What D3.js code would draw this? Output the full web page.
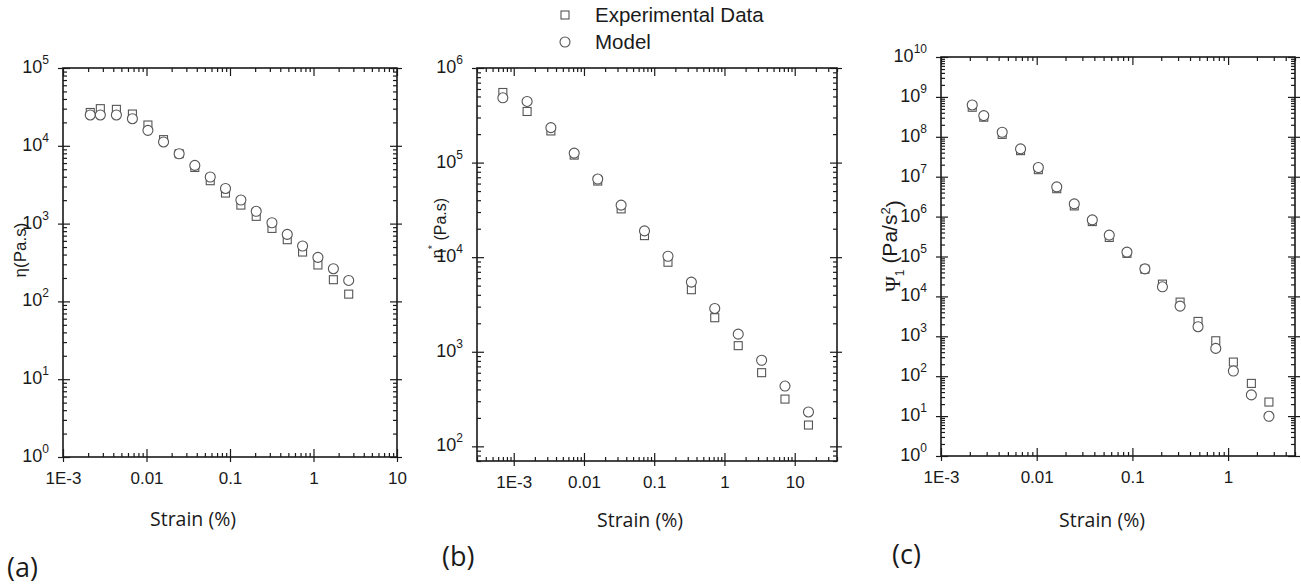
<!DOCTYPE html>
<html>
<head>
<meta charset="utf-8">
<script src="https://cdn.jsdelivr.net/npm/d3@7"></script>
<style>
  body { margin: 0; background: #fff; }
  svg { display: block; }
</style>
</head>
<body>
<svg id="chart" width="1301" height="587"></svg>
<script>

    // Data (strain in %)
    var strainA = [0.00212, 0.0028, 0.00436, 0.00678, 0.0104, 0.016, 0.0246, 0.0379, 0.058, 0.0883, 0.135, 0.206, 0.318, 0.485, 0.74, 1.13, 1.73, 2.64];
    var etaExp = [26800, 30000, 29400, 25600, 18500, 12000, 7900, 5270, 3560, 2470, 1730, 1240, 867, 621, 431, 294, 190, 124];
    var etaModel = [24900, 24900, 24900, 22300, 15800, 11200, 7900, 5600, 3970, 2830, 2010, 1440, 1025, 726, 515, 368, 263, 186];

    var strainB = [0.0007, 0.00155, 0.00338, 0.00726, 0.0157, 0.0338, 0.0727, 0.157, 0.338, 0.727, 1.57, 3.38, 7.27, 15.7];
    var etaStarExp = [551000, 347000, 216000, 120000, 63800, 32400, 16900, 8840, 4530, 2290, 1160, 601, 316, 168];
    var etaStarModel = [484000, 443000, 234000, 126000, 67000, 35500, 18960, 10230, 5450, 2870, 1535, 813, 434, 231];

    var strainC = [0.00212, 0.0028, 0.00436, 0.00678, 0.0104, 0.0162, 0.0247, 0.0381, 0.0573, 0.0877, 0.135, 0.206, 0.315, 0.485, 0.743, 1.135, 1.75, 2.67];
    var psiExp = [5.5e8, 3.1e8, 1.15e8, 4.5e7, 1.5e7, 5.0e6, 1.85e6, 7.5e5, 3.0e5, 1.2e5, 4.8e4, 2.03e4, 7190, 2360, 773, 226, 66, 22.5];
    var psiModel = [6.28e8, 3.4e8, 1.3e8, 4.98e7, 1.7e7, 5.55e6, 2.08e6, 8.27e5, 3.43e5, 1.29e5, 4.9e4, 1.74e4, 5710, 1740, 498, 135, 34, 9.9];

    var xTickValues = [1e-3, 1e-2, 1e-1, 1, 10];
    var xTickLabels = ["1E-3", "0.01", "0.1", "1", "10"];
    var seriesNames = ["Experimental Data", "Model"];
    var panelLetters = ["(a)", "(b)", "(c)"];


    var svg = d3.select("#chart");
    var ink = "#1a1a1a";
    var markColour = "#555";

    function minorTicks(dom) {
        var out = [];
        var lo = Math.floor(Math.log10(dom[0])), hi = Math.ceil(Math.log10(dom[1]));
        for (var e = lo; e < hi; e++) {
            for (var k = 2; k < 10; k++) {
                var v = k * Math.pow(10, e);
                if (v >= dom[0] && v <= dom[1]) out.push(v);
            }
        }
        return out;
    }

    function drawPanel(p) {
        var x = d3.scaleLog().domain(p.xDom).range([p.left, p.right]);
        var y = d3.scaleLog().domain(p.yDom).range([p.bottom, p.top]);
        var g = svg.append("g");

        var xMaj = xTickValues.filter(function(v) { return v >= p.xDom[0] && v <= p.xDom[1] * 1.0001; });
        var xMin = minorTicks(p.xDom);
        var yMin = minorTicks(p.yDom);

        // minor ticks, inward on all four sides
        g.append("g").attr("transform", "translate(0," + p.bottom + ")")
            .call(d3.axisBottom(x).tickValues(xMin).tickSize(-4).tickFormat(""));
        g.append("g").attr("transform", "translate(0," + p.top + ")")
            .call(d3.axisTop(x).tickValues(xMin).tickSize(-4).tickFormat(""));
        g.append("g").attr("transform", "translate(" + p.left + ",0)")
            .call(d3.axisLeft(y).tickValues(yMin).tickSize(-4).tickFormat(""));
        g.append("g").attr("transform", "translate(" + p.right + ",0)")
            .call(d3.axisRight(y).tickValues(yMin).tickSize(-4).tickFormat(""));

        // major ticks, inward part
        g.append("g").attr("transform", "translate(0," + p.bottom + ")")
            .call(d3.axisBottom(x).tickValues(xMaj).tickSize(-8).tickFormat(""));
        g.append("g").attr("transform", "translate(0," + p.top + ")")
            .call(d3.axisTop(x).tickValues(xMaj).tickSize(-8).tickFormat(""));
        g.append("g").attr("transform", "translate(" + p.left + ",0)")
            .call(d3.axisLeft(y).tickValues(p.yTicks).tickSize(-7).tickFormat(""));
        g.append("g").attr("transform", "translate(" + p.right + ",0)")
            .call(d3.axisRight(y).tickValues(p.yTicks).tickSize(-7).tickFormat(""));

        // major ticks, outward part + labels
        var xa = g.append("g").attr("transform", "translate(0," + p.bottom + ")")
            .call(d3.axisBottom(x).tickValues(xMaj).tickSize(5).tickPadding(8)
                .tickFormat(function(d) { return xTickLabels[xTickValues.indexOf(d)]; }));
        xa.selectAll("text").attr("font-size", 17).attr("font-family", "Liberation Sans, Arial, sans-serif")
            .attr("fill", ink).attr("dy", "0.85em");

        var ya = g.append("g").attr("transform", "translate(" + p.left + ",0)")
            .call(d3.axisLeft(y).tickValues(p.yTicks).tickSize(5).tickPadding(9).tickFormat(""));
        ya.selectAll(".tick text")
            .attr("font-family", "Liberation Sans, Arial, sans-serif")
            .attr("fill", ink).attr("dy", "0.45em")
            .each(function(d) {
                var t = d3.select(this);
                t.append("tspan").attr("font-size", 18).text("10");
                t.append("tspan").attr("font-size", 12).attr("dy", "-0.75em")
                    .text(Math.round(Math.log10(d)));
            });
        g.append("g").attr("transform", "translate(" + p.right + ",0)")
            .call(d3.axisRight(y).tickValues(p.yTicks).tickSize(5).tickFormat(""));

        g.selectAll(".domain").remove();
        g.selectAll(".tick line").attr("stroke", ink).attr("stroke-width", 1.2);

        // frame
        g.append("rect")
            .attr("x", p.left).attr("y", p.top)
            .attr("width", p.right - p.left).attr("height", p.bottom - p.top)
            .attr("fill", "none").attr("stroke", ink).attr("stroke-width", 1.6);

        // points: squares (experimental) then circles (model)
        g.selectAll(".sq").data(p.xs.map(function(v, i) { return [v, p.exp[i]]; }))
            .enter().append("rect")
            .attr("x", function(d) { return x(d[0]) - 4; })
            .attr("y", function(d) { return y(d[1]) - 4; })
            .attr("width", 8).attr("height", 8)
            .attr("fill", "#fff").attr("stroke", markColour).attr("stroke-width", 1.1);

        g.selectAll(".ci").data(p.xs.map(function(v, i) { return [v, p.model[i]]; }))
            .enter().append("circle")
            .attr("cx", function(d) { return x(d[0]); })
            .attr("cy", function(d) { return y(d[1]); })
            .attr("r", 5)
            .attr("fill", "#fff").attr("stroke", markColour).attr("stroke-width", 1.1);

        // x title and panel letter
        g.append("text")
            .attr("x", p.xTitle[0]).attr("y", p.xTitle[1])
            .attr("text-anchor", "middle")
            .attr("font-family", "Open Sans, sans-serif").attr("font-size", 19.5)
            .attr("fill", ink).text("Strain (%)");

        g.append("text")
            .attr("x", p.letter[0]).attr("y", p.letter[1])
            .attr("font-family", "Open Sans, sans-serif").attr("font-size", 27)
            .attr("fill", ink).text(p.letterText);

        // y title
        var yt = g.append("text")
            .attr("transform", "translate(" + p.yTitle[0] + "," + p.yTitle[1] + ") rotate(-90)")
            .attr("text-anchor", "middle")
            .attr("font-family", "Liberation Sans, Arial, sans-serif")
            .attr("font-size", p.yTitleSize)
            .attr("fill", ink);
        p.yTitleParts(yt);
    }


    drawPanel({
        left: 63, right: 397, top: 68, bottom: 457,
        xDom: [1e-3, 10], yDom: [1, 1e5],
        yTicks: [1, 10, 100, 1e3, 1e4, 1e5],
        xs: strainA, exp: etaExp, model: etaModel,
        xTitle: [193, 526], letter: [7, 577], letterText: panelLetters[0],
        yTitle: [26, 250], yTitleSize: 17,
        yTitleParts: function(t) { t.text("η(Pa.s)"); }
    });

    drawPanel({
        left: 477, right: 837, top: 68, bottom: 461,
        xDom: [3e-4, 40], yDom: [70, 1e6],
        yTicks: [100, 1e3, 1e4, 1e5, 1e6],
        xs: strainB, exp: etaStarExp, model: etaStarModel,
        xTitle: [640, 527], letter: [442, 566], letterText: panelLetters[1],
        yTitle: [443, 228], yTitleSize: 16,
        yTitleParts: function(t) {
            t.append("tspan").text("η");
            t.append("tspan").attr("font-size", 11).attr("dy", "-0.6em").text("*");
            t.append("tspan").attr("dy", "0.6em").text(" (Pa.s)");
        }
    });

    drawPanel({
        left: 941, right: 1295, top: 57, bottom: 456,
        xDom: [1e-3, 5], yDom: [1, 1e10],
        yTicks: d3.range(0, 11).map(function(e) { return Math.pow(10, e); }),
        xs: strainC, exp: psiExp, model: psiModel,
        xTitle: [1102, 527], letter: [892, 564], letterText: panelLetters[2],
        yTitle: [900, 246], yTitleSize: 21,
        yTitleParts: function(t) {
            t.append("tspan").attr("font-family", "Liberation Serif, serif").text("Ψ");
            t.append("tspan").attr("font-size", 12).attr("dy", "0.35em").text("1");
            t.append("tspan").attr("dy", "-0.35em").text(" (Pa/s");
            t.append("tspan").attr("font-size", 13).attr("dy", "-0.55em").text("2");
            t.append("tspan").attr("dy", "0.55em").text(")");
        }
    });

    // legend
    var legend = svg.append("g").attr("transform", "translate(565,0)");
    legend.append("rect").attr("x", -4).attr("y", 11).attr("width", 8).attr("height", 8)
        .attr("fill", "#fff").attr("stroke", markColour).attr("stroke-width", 1.1);
    legend.append("circle").attr("cx", 0).attr("cy", 42).attr("r", 5)
        .attr("fill", "#fff").attr("stroke", markColour).attr("stroke-width", 1.1);
    legend.selectAll("text").data(seriesNames).enter().append("text")
        .attr("x", 30).attr("y", function(d, i) { return 22 + i * 27; })
        .attr("font-family", "Liberation Sans, Arial, sans-serif").attr("font-size", 20.5)
        .attr("fill", ink).text(function(d) { return d; });

</script>
</body>
</html>
